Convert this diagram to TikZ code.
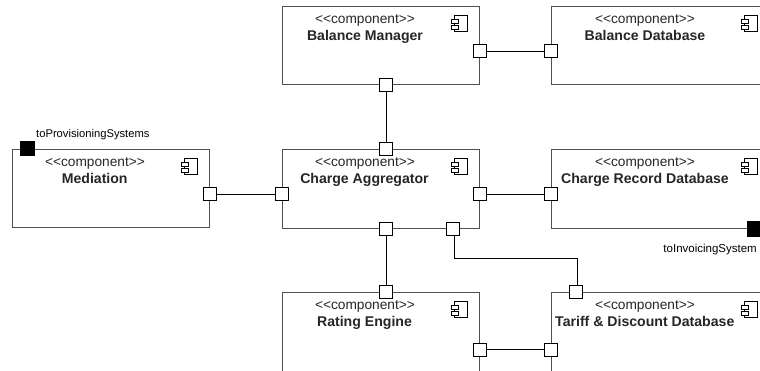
\documentclass[tikz,border=0pt]{standalone}
\usepackage{fontspec}
\setmainfont{Liberation Sans}
\definecolor{edgegrey}{HTML}{505050}
\tikzset{
  x=1pt,y=-1pt,
  comp/.style={draw=edgegrey,line width=1pt,fill=white},
  port/.style={draw=black,line width=1pt,fill=white,minimum size=13pt,inner sep=0pt},
  blackport/.style={draw=black,fill=black,line width=0pt,minimum size=14.5pt,inner sep=0pt},
  wire/.style={draw=black,line width=1pt},
  stereo/.style={font=\fontsize{13.7}{15}\selectfont,inner sep=0pt,anchor=base,text=black!85},
  cname/.style={font=\fontsize{14.1}{15}\selectfont\bfseries,inner sep=0pt,anchor=base,text=black!85},
  plabel/.style={font=\fontsize{11.2}{12}\selectfont,inner sep=0pt,text=black},
}
\newcommand{\compicon}[2]{%
  \draw[black,line width=.8pt,fill=white] (#1+3,#2) rectangle (#1+16,#2+16);
  \draw[black,line width=.8pt,fill=white] (#1,#2+4) rectangle (#1+7,#2+8);
  \draw[black,line width=.8pt,fill=white] (#1,#2+10) rectangle (#1+7,#2+14);
}
\begin{document}
\begin{tikzpicture}
\useasboundingbox (0,0) rectangle (760,370);
\clip (0,0) rectangle (760,370);
\fill[white] (0,0) rectangle (760,370);
% component frames
\draw[comp] (12.5,149.5) rectangle (209.5,227.5);
\draw[comp] (282.5,6.5) rectangle (479.5,84.5);
\draw[comp] (551.5,6.5) rectangle (770,84.5);
\draw[comp] (282.5,149.5) rectangle (479.5,228);
\draw[comp] (551.5,149.5) rectangle (770,228);
\draw[comp] (282.5,292.5) rectangle (479.5,380);
\draw[comp] (551.5,292.5) rectangle (770,380);
% texts
\node[stereo] (s1) at (95,166) {<{}<component>{}>};
\node[cname] (n1) at (94.7,183) {Mediation};
\node[stereo] (s2) at (365,23) {<{}<component>{}>};
\node[cname] (n2) at (365,40.5) {Balance Manager};
\node[stereo] (s3) at (645,23) {<{}<component>{}>};
\node[cname] (n3) at (645,40.5) {Balance Database};
\node[stereo] (s4) at (365,166) {<{}<component>{}>};
\node[cname] (n4) at (364.5,183.5) {Charge Aggregator};
\node[stereo] (s5) at (645,166) {<{}<component>{}>};
\node[cname] (n5) at (645,183.5) {Charge Record Database};
\node[stereo] (s6) at (365,309) {<{}<component>{}>};
\node[cname] (n6) at (364.5,326.5) {Rating Engine};
\node[stereo] (s7) at (645,309) {<{}<component>{}>};
\node[cname] (n7) at (644.8,326.5) {Tariff \& Discount Database};
\node[plabel,anchor=west] (l1) at (36,134.5) {toProvisioningSystems};
\node[plabel,anchor=east,font=\fontsize{11.5}{12}\selectfont] (l2) at (757,249.5) {toInvoicingSystem};
% icons
\compicon{451.5}{15.5}
\compicon{451.5}{158.5}
\compicon{451.5}{301.5}
\compicon{181.5}{158.5}
\compicon{741.5}{15.5}
\compicon{741.5}{158.5}
\compicon{741.5}{301.5}
% ports
\node[port] (medR) at (210,194) {};
\node[port] (chL) at (282,194) {};
\node[port] (chR) at (480,194) {};
\node[port] (chT) at (386,149) {};
\node[port] (chB) at (386,229) {};
\node[port] (chB2) at (453,229) {};
\node[port] (crL) at (551,194) {};
\node[port] (bmR) at (480,51) {};
\node[port] (bmB) at (386,85) {};
\node[port] (bdL) at (551,51) {};
\node[port] (reT) at (386,292) {};
\node[port] (reR) at (480,350) {};
\node[port] (tdL) at (551,350) {};
\node[port] (tdT) at (576,292) {};
\node[blackport] (prov) at (27.5,148.5) {};
\node[blackport] (inv) at (755,229) {};
% connectors
\draw[wire] ([yshift=-.5pt]medR.east) -- ([yshift=-.5pt]chL.west);
\draw[wire] ([yshift=-.5pt]chR.east) -- ([yshift=-.5pt]crL.west);
\draw[wire] ([yshift=-.5pt]bmR.east) -- ([yshift=-.5pt]bdL.west);
\draw[wire] ([xshift=.5pt]bmB.south) -- ([xshift=.5pt]chT.north);
\draw[wire] ([xshift=.5pt]chB.south) -- ([xshift=.5pt]reT.north);
\draw[wire] ([yshift=.5pt]reR.east) -- ([yshift=.5pt]tdL.west);
\coordinate (bend) at (454.5,258.5);
\draw[wire] ([xshift=1.5pt]chB2.south) -- (bend) -| ([xshift=1.5pt]tdT.north);
\end{tikzpicture}
\end{document}
